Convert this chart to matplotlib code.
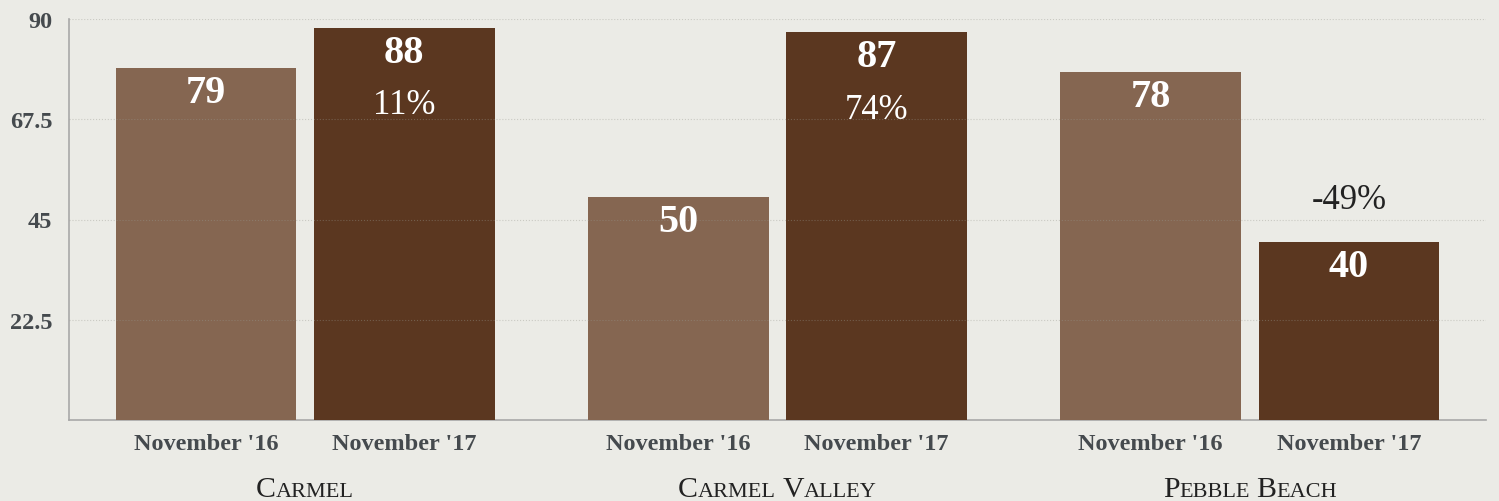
import numpy as np
import matplotlib
matplotlib.use('Agg')
import matplotlib.pyplot as plt
import matplotlib.transforms as mtransforms

groups = ['Carmel', 'Carmel Valley', 'Pebble Beach']
periods = ["November '16", "November '17"]
nov16 = [79, 50, 78]
nov17 = [88, 87, 40]
change = ['11%', '74%', '-49%']
yticks = [22.5, 45, 67.5, 90]

BG = '#ebebe6'
C16 = '#856651'
C17 = '#5b3720'
TXT = '#454a4e'

plt.rcParams['font.family'] = ['Liberation Serif', 'DejaVu Serif']

fig = plt.figure(figsize=(14.99, 5.02), dpi=100, facecolor=BG)
ax = fig.add_axes([69/1499, 1 - 421/502, 1417/1499, 401/502], facecolor=BG)

x = np.arange(len(groups)) + 0.5
w = 0.383
off = 0.21
b16 = ax.bar(x - off, nov16, w, color=C16, zorder=2)
b17 = ax.bar(x + off, nov17, w, color=C17, zorder=2)

ax.set_xlim(0, 3)
ax.set_ylim(0, 90)
ax.set_yticks(yticks)
ax.set_yticklabels(['22.5', '45', '67.5', '90'])
ax.set_xticks(np.concatenate([x - off, x + off]))
ax.set_xticklabels(periods[:1] * 3 + periods[1:] * 3)
ax.tick_params(length=0, labelsize=17.5, labelcolor=TXT)
ax.tick_params(axis='y', pad=12)
ax.tick_params(axis='x', pad=9)
for lab in ax.get_xticklabels() + ax.get_yticklabels():
    lab.set_fontweight('bold')

ax.set_axisbelow(False)
ax.grid(axis='y', color='#999990', alpha=0.4, linestyle=':', linewidth=0.8)
for s in ['top', 'right']:
    ax.spines[s].set_visible(False)
for s in ['left', 'bottom']:
    ax.spines[s].set_color('#a8a8a8')
    ax.spines[s].set_linewidth(1.2)
    ax.spines[s].set_zorder(1)

px = 72 / 100.0
for rect, v in zip(list(b16) + list(b17), nov16 + nov17):
    ax.annotate(str(v), (rect.get_x() + rect.get_width() / 2, v),
                xytext=(0, -6 * px), textcoords='offset points',
                ha='center', va='top', fontsize=29, fontweight='bold',
                color='white', zorder=4)

for rect, v, c in zip(b17, nov17, change):
    cx = rect.get_x() + rect.get_width() / 2
    if c.startswith('-'):
        ax.annotate(c, (cx, v), xytext=(0, 42 * px), textcoords='offset points',
                    ha='center', va='center', fontsize=25, color='#222222', zorder=4)
    else:
        ax.annotate(c, (cx, v), xytext=(0, -77 * px), textcoords='offset points',
                    ha='center', va='center', fontsize=25, color='white', zorder=4)


def small_caps(xc, label, big=21.5, small=16):
    pieces = []
    for i, word in enumerate(label.split()):
        if i:
            pieces.append((' ', small))
        pieces.append((word[0], big))
        pieces.append((word[1:].upper(), small))
    r = fig.canvas.get_renderer()
    trans = mtransforms.blended_transform_factory(ax.transData, ax.transAxes)
    widths = []
    texts = []
    for s, size in pieces:
        if s == ' ':
            widths.append(size * 0.3 / px)
            texts.append(None)
            continue
        t = ax.text(xc, -0.19, s, fontsize=size, color='#222222', ha='left',
                    va='baseline', transform=trans, clip_on=False)
        widths.append(t.get_window_extent(r).width)
        texts.append(t)
    total = sum(widths)
    cur = -total / 2
    for t, wd in zip(texts, widths):
        if t is not None:
            t.set_transform(mtransforms.offset_copy(trans, fig=fig, x=cur * px, y=0, units='points'))
        cur += wd


for xc, g in zip(x, groups):
    small_caps(xc, g)

fig.savefig('out.png', dpi=100, facecolor=BG)
